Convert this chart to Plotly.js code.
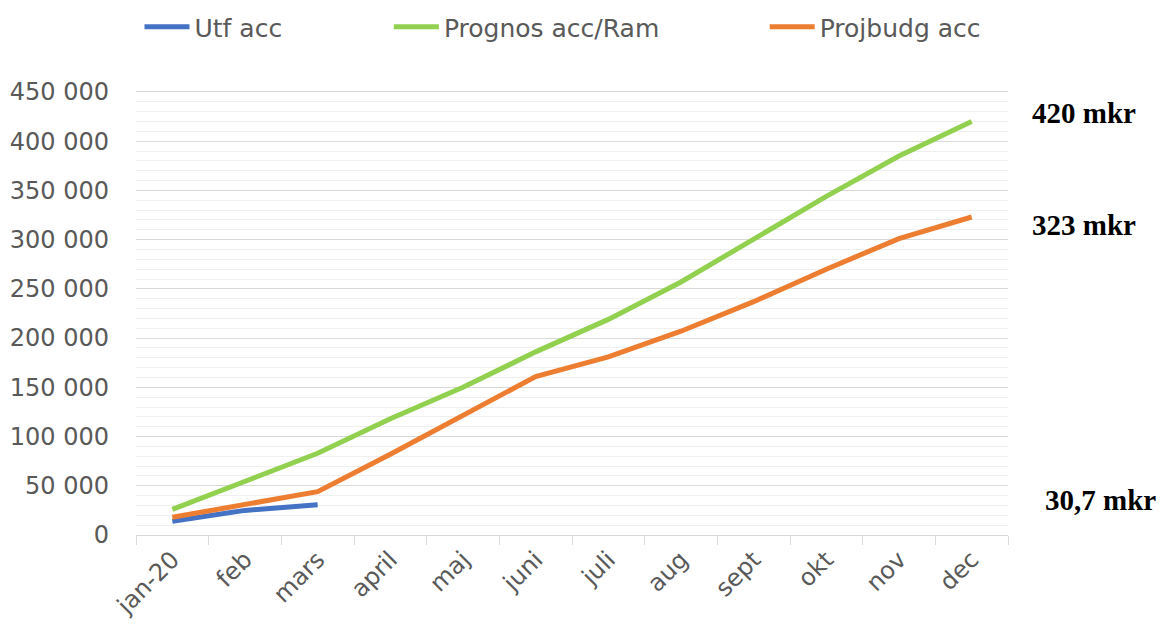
<!DOCTYPE html>
<html>
<head>
<meta charset="utf-8">
<script src="https://cdn.plot.ly/plotly-3.0.1.min.js"></script>
<style>html,body{margin:0;padding:0;background:#fff;}#chart{width:1163px;height:629px;}</style>
</head>
<body>
<div id="chart"></div>
<script>
const months = ["jan-20","feb","mars","april","maj","juni","juli","aug","sept","okt","nov","dec"];
const utfAcc = [14000, 25000, 30700];
const prognosAcc = [26000, 54000, 83000, 118000, 150000, 186000, 219000, 257000, 300000, 344000, 385000, 420000];
const projbudgAcc = [18000, 31000, 44000, 82000, 122000, 161000, 181000, 207000, 237000, 270000, 301000, 323000];
const seriesNames = ["Utf acc", "Prognos acc/Ram", "Projbudg acc"];
const sideLabels = ["420 mkr", "323 mkr", "30,7 mkr"];

const axisFont = {family: "DejaVu Sans, sans-serif", size: 24, color: "#595959"};

const traces = [
  {x: months.slice(0, utfAcc.length), y: utfAcc, name: seriesNames[0], type: "scatter", mode: "lines",
   line: {color: "#4472C4", width: 5}, legend: "legend"},
  {x: months, y: prognosAcc, name: seriesNames[1], type: "scatter", mode: "lines",
   line: {color: "#92D050", width: 5}, legend: "legend2"},
  {x: months, y: projbudgAcc, name: seriesNames[2], type: "scatter", mode: "lines",
   line: {color: "#ED7D31", width: 5}, legend: "legend3"}
];

const legBase = {orientation: "h", yref: "container", yanchor: "middle", y: 0.957, xanchor: "left",
  itemwidth: 45,
  font: {family: "DejaVu Sans, sans-serif", size: 25, color: "#595959"}, bgcolor: "rgba(0,0,0,0)", borderwidth: 0};

const annFont = {family: "Liberation Serif, serif", size: 29, color: "#000"};

const layout = {
  width: 1163, height: 629,
  margin: {l: 136, r: 155, t: 89, b: 94},
  paper_bgcolor: "#fff", plot_bgcolor: "#fff",
  showlegend: true,
  legend: Object.assign({}, legBase, {x: 0.004}),
  legend2: Object.assign({}, legBase, {x: 0.290}),
  legend3: Object.assign({}, legBase, {x: 0.721}),
  xaxis: {
    type: "category", categoryorder: "array", categoryarray: months,
    range: [-0.5, 11.5],
    tickangle: -45, tickfont: axisFont,
    tickson: "boundaries", ticks: "outside", ticklen: 9, tickcolor: "#d9d9d9", tickwidth: 1,
    showline: true, linecolor: "#d9d9d9", linewidth: 1,
    showgrid: false, zeroline: false, fixedrange: true, automargin: false
  },
  yaxis: {
    range: [0, 453000], dtick: 50000, tick0: 0,
    tickformat: ",d",
    tickfont: axisFont, ticks: "", ticklabelstandoff: 26,
    showgrid: true, gridcolor: "#d9d9d9", gridwidth: 1,
    minor: {dtick: 10000, showgrid: true, gridcolor: "#efefef", gridwidth: 1},
    zeroline: false, showline: false, fixedrange: true, automargin: false
  },
  separators: ", ",
  annotations: [
    {xref: "paper", yref: "paper", x: 1.025, y: 0.946, xanchor: "left", yanchor: "middle",
     text: "<b>" + sideLabels[0] + "</b>", showarrow: false, font: annFont},
    {xref: "paper", yref: "paper", x: 1.025, y: 0.695, xanchor: "left", yanchor: "middle",
     text: "<b>" + sideLabels[1] + "</b>", showarrow: false, font: annFont},
    {xref: "paper", yref: "paper", x: 1.040, y: 0.078, xanchor: "left", yanchor: "middle",
     text: "<b>" + sideLabels[2] + "</b>", showarrow: false, font: annFont}
  ]
};

Plotly.newPlot("chart", traces, layout, {displayModeBar: false, staticPlot: true});
</script>
</body>
</html>
